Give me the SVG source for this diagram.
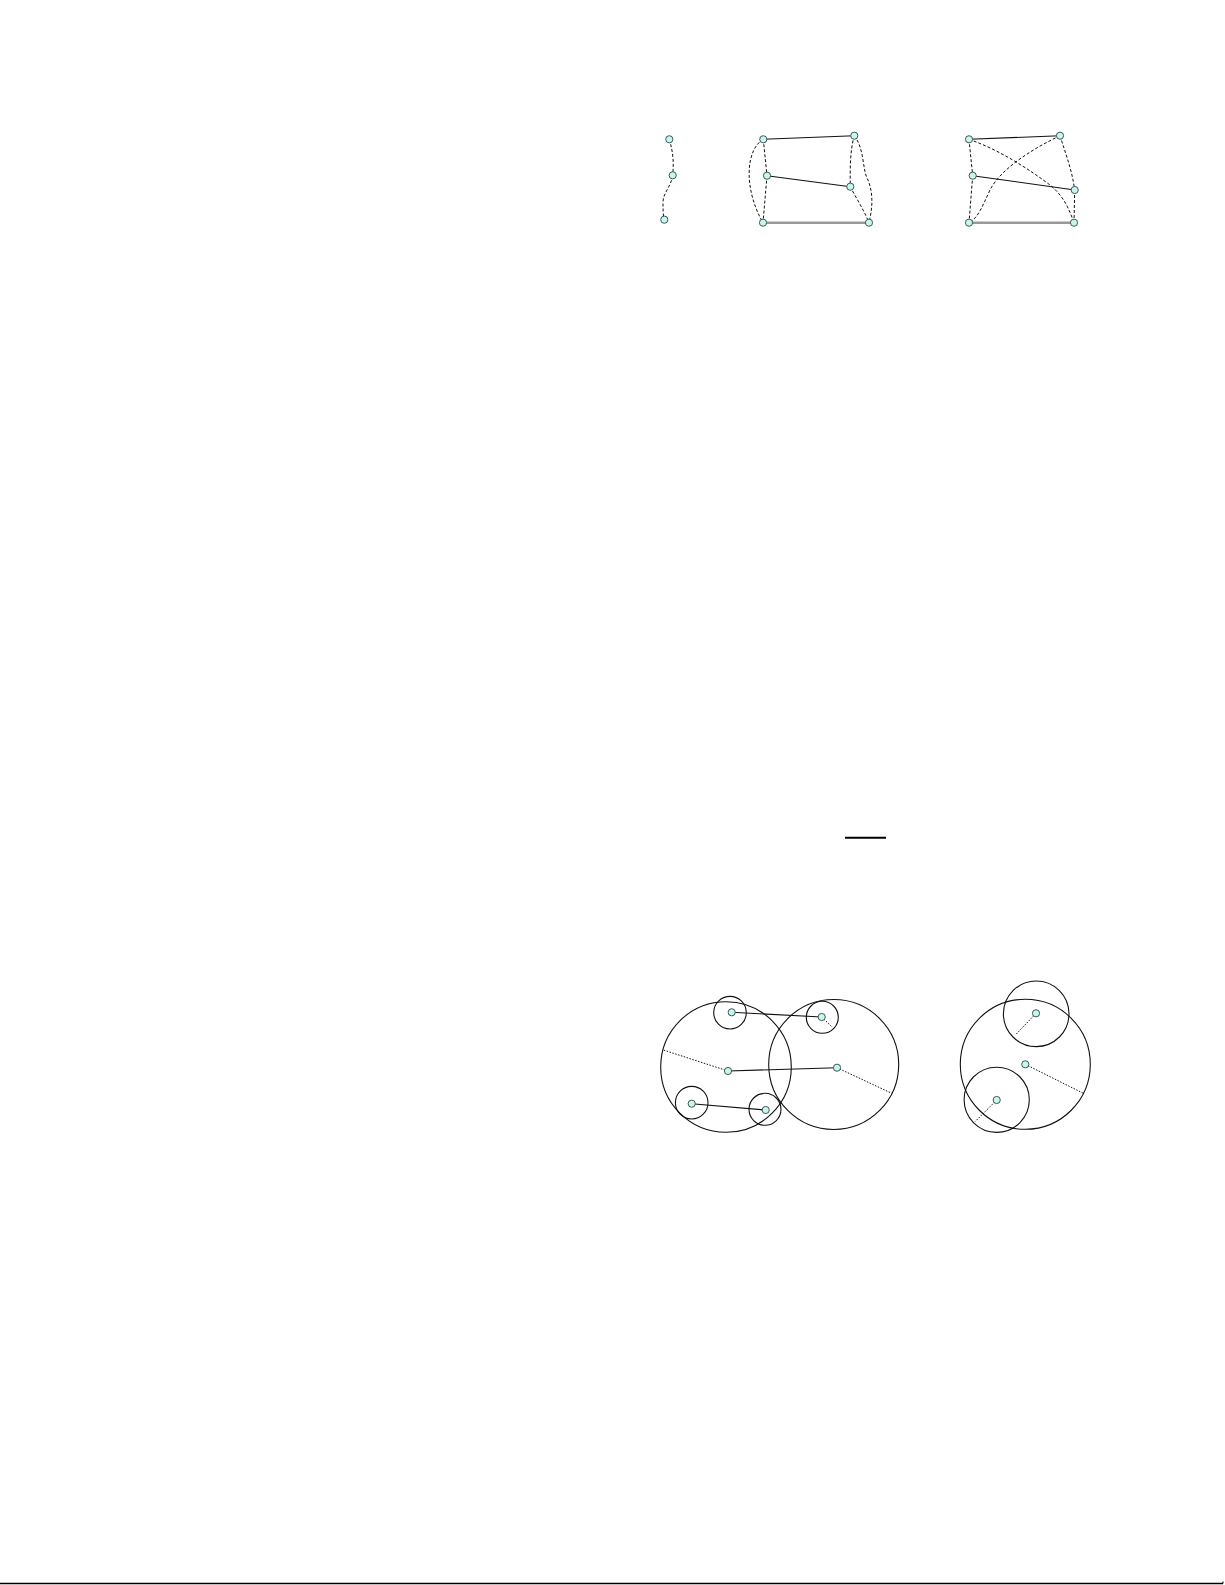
<svg xmlns="http://www.w3.org/2000/svg" width="1225" height="1585" viewBox="0 0 1225 1585">
<style>
.nd{fill:#c8f5ee;stroke:#2b4a44;stroke-width:0.9}
.sol{stroke:#111;stroke-width:1.1;fill:none}
.gry{stroke:#999;stroke-width:2.6;fill:none}
.dsh{stroke:#111;stroke-width:1;fill:none;stroke-dasharray:3,2}
.dot{stroke:#111;stroke-width:1;fill:none;stroke-dasharray:1.5,1.5}
.ring{stroke:#111;stroke-width:1.1;fill:none}
</style>
<rect width="1225" height="1585" fill="#fff"/>
<g id="connectors">
  <!-- graph 1 -->
  <path class="dsh" d="M669.3,139.3 C673,152 674,162 672.7,175.3"/>
  <path class="dsh" d="M672.7,175.3 C671,187 663,193 663,202 C663,210 663,215 664.3,219.7"/>
  <!-- graph 2 -->
  <line class="sol" x1="763.3" y1="139.3" x2="854.3" y2="135.7"/>
  <line class="sol" x1="767" y1="175.7" x2="850.3" y2="186.7"/>
  <line class="gry" x1="763" y1="222.7" x2="869" y2="222.7"/>
  <path class="dsh" d="M763.3,139.3 L767,175.7"/>
  <path class="dsh" d="M767,175.7 L763,222.7"/>
  <path class="dsh" d="M763.3,139.3 C745,150 744,190 763,222.7"/>
  <path class="dsh" d="M854.3,135.7 C850,150 850,170 850.3,186.7"/>
  <path class="dsh" d="M850.3,186.7 C856,198 864,210 869,222.7"/>
  <path class="dsh" d="M854.3,135.7 C865,150 862,170 868,180 C874,195 872,210 869,222.7"/>
  <!-- graph 3 -->
  <line class="sol" x1="969" y1="139.3" x2="1060" y2="135.7"/>
  <line class="sol" x1="972.7" y1="175.7" x2="1074.7" y2="190"/>
  <line class="gry" x1="969" y1="222.7" x2="1074" y2="222.7"/>
  <path class="dsh" d="M969,139.3 L972.7,175.7"/>
  <path class="dsh" d="M972.7,175.7 L969,222.7"/>
  <path class="dsh" d="M1060,135.7 C1066,155 1072,170 1074.7,190"/>
  <path class="dsh" d="M1074.7,190 L1074,222.7"/>
  <path class="dsh" d="M1060,135.7 C1030,150 1000,170 990,190 C982,207 978,218 969,222.7"/>
  <path class="dsh" d="M969,139.3 C1000,150 1030,170 1050,185 C1065,197 1070,212 1074,222.7"/>
  <!-- bottom left figure -->
  <line class="sol" x1="731.7" y1="1012.3" x2="821.7" y2="1017"/>
  <line class="sol" x1="728" y1="1071" x2="837" y2="1067.7"/>
  <line class="sol" x1="691.7" y1="1103.7" x2="765.7" y2="1110"/>
  <line class="dot" x1="728" y1="1071" x2="663.3" y2="1050"/>
  <line class="dot" x1="837" y1="1067.7" x2="891.7" y2="1093.3"/>
  <line class="dot" x1="821.7" y1="1017" x2="831.7" y2="1026.7"/>
  <!-- bottom right figure -->
  <line class="dot" x1="1036" y1="1013.3" x2="1015.7" y2="1034.7"/>
  <line class="dot" x1="1025.3" y1="1064.3" x2="1083.3" y2="1093.3"/>
  <line class="dot" x1="996.7" y1="1100" x2="975" y2="1121.7"/>
</g>
<g id="rings">
  <circle class="ring" cx="726" cy="1067" r="65.3"/>
  <circle class="ring" cx="833.7" cy="1064.5" r="65"/>
  <circle class="ring" cx="730" cy="1012.7" r="16.3"/>
  <circle class="ring" cx="822.3" cy="1017.3" r="16"/>
  <circle class="ring" cx="691.7" cy="1102.7" r="16.3"/>
  <circle class="ring" cx="765" cy="1109.3" r="16"/>
  <circle class="ring" cx="1025.3" cy="1064.3" r="65"/>
  <circle class="ring" cx="1036.2" cy="1013.8" r="32.8"/>
  <circle class="ring" cx="996.7" cy="1099.8" r="32.6"/>
</g>
<g id="nodes-g1">
  <circle id="n1" class="nd" cx="669.3" cy="139.3" r="3.6"/>
  <circle id="n2" class="nd" cx="672.7" cy="175.3" r="3.6"/>
  <circle id="n3" class="nd" cx="664.3" cy="219.7" r="3.6"/>
</g>
<g id="nodes-g2">
  <circle id="a" class="nd" cx="763.3" cy="139.3" r="3.6"/>
  <circle id="b" class="nd" cx="854.3" cy="135.7" r="3.6"/>
  <circle id="c" class="nd" cx="767" cy="175.7" r="3.6"/>
  <circle id="d" class="nd" cx="850.3" cy="186.7" r="3.6"/>
  <circle id="e" class="nd" cx="763" cy="222.7" r="3.6"/>
  <circle id="f" class="nd" cx="869" cy="222.7" r="3.6"/>
</g>
<g id="nodes-g3">
  <circle id="p" class="nd" cx="969" cy="139.3" r="3.6"/>
  <circle id="q" class="nd" cx="1060" cy="135.7" r="3.6"/>
  <circle id="r" class="nd" cx="972.7" cy="175.7" r="3.6"/>
  <circle id="s" class="nd" cx="1074.7" cy="190" r="3.6"/>
  <circle id="t" class="nd" cx="969" cy="222.7" r="3.6"/>
  <circle id="u" class="nd" cx="1074" cy="222.7" r="3.6"/>
</g>
<g id="nodes-g4">
  <circle class="nd" cx="731.7" cy="1012.3" r="3.6"/>
  <circle class="nd" cx="821.7" cy="1017" r="3.6"/>
  <circle class="nd" cx="728" cy="1071" r="3.6"/>
  <circle class="nd" cx="837" cy="1067.7" r="3.6"/>
  <circle class="nd" cx="691.7" cy="1103.7" r="3.6"/>
  <circle class="nd" cx="765.7" cy="1110" r="3.6"/>
</g>
<g id="nodes-g5">
  <circle class="nd" cx="1036" cy="1013.3" r="3.6"/>
  <circle class="nd" cx="1025.3" cy="1064.3" r="3.6"/>
  <circle class="nd" cx="996.7" cy="1100" r="3.6"/>
</g>
<g id="rules">
  <line x1="845" y1="837.7" x2="886" y2="837.7" stroke="#000" stroke-width="2"/>
  <line x1="0" y1="1583.5" x2="1223" y2="1583.5" stroke="#000" stroke-width="1.6"/>
  <line x1="1223" y1="1583.5" x2="1223" y2="1581.5" stroke="#000" stroke-width="1"/>
</g>
</svg>
